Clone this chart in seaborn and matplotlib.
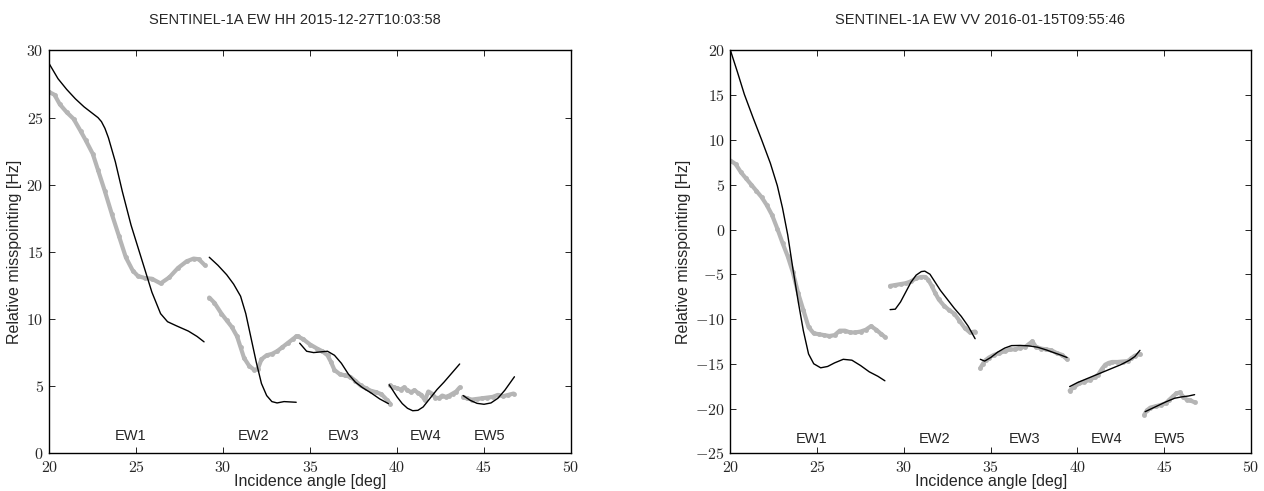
import numpy as np
import pandas as pd
import matplotlib
matplotlib.use("Agg")
import matplotlib.pyplot as plt
import seaborn as sns
from matplotlib.ticker import FuncFormatter, MultipleLocator

sns.set_theme(style="white")
plt.rcParams['font.family'] = ['Liberation Sans', 'DejaVu Sans']
plt.rcParams['mathtext.fontset'] = 'cm'

# ---------------- data: HH (left panel) ----------------
titles = ["SENTINEL-1A EW HH 2015-12-27T10:03:58",
          "SENTINEL-1A EW VV 2016-01-15T09:55:46"]
swath_labels = ["EW1", "EW2", "EW3", "EW4", "EW5"]
swath_label_x = [24.7, 31.75, 36.95, 41.65, 45.3]
swath_label_y = [1.3, -23.45]

hh_gray_x = [
    [20.0, 20.3, 20.6, 21.0, 21.4, 21.8, 22.1, 22.5, 22.8, 23.2, 23.6, 24.0, 24.4, 24.8,
     25.1, 25.5, 25.9, 26.4, 26.9, 27.4, 27.9, 28.3, 28.6, 28.95],
    [29.2, 29.5, 29.9, 30.2, 30.5, 30.8, 31.0, 31.2, 31.5, 31.8, 32.0, 32.2, 32.5, 32.8,
     33.1, 33.4, 33.7, 34.0, 34.2],
    [34.3, 34.6, 35.0, 35.4, 35.7, 36.0, 36.2, 36.4, 36.7, 37.0, 37.3, 37.6, 37.9, 38.2,
     38.5, 38.8, 39.1, 39.4, 39.6],
    [39.6, 39.8, 40.0, 40.2, 40.4, 40.6, 40.8, 41.0, 41.2, 41.4, 41.6, 41.8, 42.0, 42.2,
     42.4, 42.6, 42.8, 43.0, 43.2, 43.4, 43.6],
    [43.8, 44.0, 44.3, 44.6, 44.9, 45.2, 45.5, 45.8, 46.1, 46.4, 46.7],
]
hh_gray_y = [
    [26.9, 26.7, 26.0, 25.4, 24.9, 24.0, 23.3, 22.3, 21.1, 19.5, 17.8, 16.2, 14.6, 13.6,
     13.2, 13.05, 13.0, 12.65, 13.1, 13.8, 14.3, 14.5, 14.45, 14.0],
    [11.6, 11.2, 10.4, 9.9, 9.4, 8.7, 7.9, 7.1, 6.5, 6.2, 6.3, 7.0, 7.3, 7.4,
     7.6, 7.9, 8.2, 8.5, 8.7],
    [8.7, 8.5, 8.1, 7.8, 7.6, 7.3, 6.8, 6.2, 5.9, 5.8, 5.7, 5.4, 5.05, 4.85,
     4.65, 4.55, 4.4, 4.0, 3.7],
    [5.05, 4.9, 4.85, 4.75, 4.9, 4.7, 4.55, 4.7, 4.5, 4.35, 3.95, 4.6, 4.45, 4.15,
     4.1, 4.3, 4.2, 4.3, 4.45, 4.6, 4.9],
    [4.2, 4.1, 4.0, 4.05, 4.1, 4.15, 4.2, 4.35, 4.25, 4.35, 4.45],
]
hh_line_x = [
    [20.0, 20.5, 21.0, 21.5, 22.0, 22.5, 22.8, 23.0, 23.2, 23.4, 23.8, 24.2, 24.7, 25.3,
     25.9, 26.4, 26.8, 27.3, 28.0, 28.5, 28.9],
    [29.2, 29.7, 30.2, 30.6, 31.0, 31.3, 31.6, 31.9, 32.2, 32.5, 32.8, 33.1, 33.5, 34.2],
    [34.4, 34.8, 35.2, 35.6, 36.0, 36.4, 36.8, 37.2, 37.6, 38.0, 38.5, 39.0, 39.5],
    [39.55, 39.8, 40.0, 40.3, 40.6, 40.9, 41.2, 41.5, 41.9, 42.3, 42.7, 43.1, 43.6],
    [43.8, 44.2, 44.6, 45.0, 45.4, 45.8, 46.2, 46.75],
]
hh_line_y = [
    [29.0, 27.9, 27.1, 26.4, 25.8, 25.3, 25.0, 24.7, 24.2, 23.5, 21.7, 19.5, 17.0, 14.5,
     12.0, 10.4, 9.8, 9.5, 9.1, 8.7, 8.3],
    [14.6, 14.0, 13.3, 12.6, 11.7, 10.4, 8.6, 6.8, 5.2, 4.3, 3.85, 3.75, 3.85, 3.8],
    [8.2, 7.6, 7.5, 7.55, 7.6, 7.3, 6.7, 5.9, 5.3, 4.9, 4.5, 4.05, 3.7],
    [5.1, 4.6, 4.2, 3.7, 3.35, 3.17, 3.2, 3.45, 4.1, 4.75, 5.3, 5.9, 6.65],
    [4.3, 3.95, 3.72, 3.65, 3.75, 4.1, 4.7, 5.7],
]

# ---------------- data: VV (right panel) ----------------
vv_gray_x = [
    [20.0, 20.3, 20.6, 20.9, 21.2, 21.5, 21.8, 22.1, 22.4, 22.7, 23.0, 23.3, 23.6, 23.9,
     24.2, 24.5, 24.8, 25.1, 25.4, 25.7, 26.0, 26.3, 26.6, 26.9, 27.2, 27.5, 27.8, 28.1,
     28.4, 28.7, 28.9],
    [29.2, 29.5, 29.8, 30.1, 30.4, 30.7, 31.0, 31.2, 31.4, 31.6, 31.8, 32.0, 32.3, 32.6,
     32.9, 33.2, 33.5, 33.8, 34.1],
    [34.4, 34.55, 34.7, 34.9, 35.2, 35.5, 35.8, 36.1, 36.4, 36.7, 37.0, 37.2, 37.4, 37.6,
     37.9, 38.2, 38.5, 38.8, 39.1, 39.4],
    [39.55, 39.8, 40.1, 40.4, 40.7, 41.0, 41.2, 41.4, 41.6, 41.8, 42.0, 42.3, 42.6, 42.9,
     43.1, 43.3, 43.6],
    [43.85, 44.0, 44.2, 44.5, 44.8, 45.1, 45.3, 45.5, 45.7, 45.9, 46.1, 46.3, 46.5, 46.75],
]
vv_gray_y = [
    [7.7, 7.3, 6.4, 5.7, 5.0, 4.3, 3.6, 2.7, 1.6, 0.1, -1.5, -3.0, -4.8, -7.1,
     -9.0, -10.9, -11.6, -11.7, -11.8, -11.9, -11.8, -11.3, -11.3, -11.5, -11.5, -11.4,
     -11.2, -10.8, -11.2, -11.7, -12.0],
    [-6.3, -6.2, -6.1, -6.0, -5.8, -5.45, -5.3, -5.3, -5.6, -6.3, -7.1, -7.8, -8.5, -9.0,
     -9.4, -10.2, -11.0, -11.5, -11.4],
    [-15.5, -15.0, -14.6, -14.3, -14.0, -13.8, -13.6, -13.4, -13.4, -13.2, -13.1, -12.8,
     -12.5, -13.1, -13.3, -13.4, -13.5, -13.8, -14.0, -14.5],
    [-18.0, -17.6, -17.2, -17.0, -16.8, -16.5, -16.2, -15.6, -15.1, -14.9, -14.8, -14.8,
     -14.75, -14.7, -14.4, -14.1, -13.9],
    [-20.7, -20.2, -19.9, -19.75, -19.6, -19.4, -19.0, -18.65, -18.3, -18.2, -18.7, -19.0,
     -19.1, -19.3],
]
vv_line_x = [
    [20.0, 20.4, 20.8, 21.3, 21.8, 22.3, 22.7, 23.0, 23.3, 23.6, 23.9, 24.2, 24.5, 24.8,
     25.2, 25.6, 26.0, 26.5, 27.0, 27.5, 28.0, 28.5, 28.9],
    [29.2, 29.5, 29.8, 30.1, 30.4, 30.7, 31.0, 31.2, 31.5, 31.8, 32.1, 32.5, 32.9, 33.3,
     33.7, 34.1],
    [34.4, 34.65, 35.0, 35.4, 35.8, 36.2, 36.7, 37.2, 37.7, 38.2, 38.7, 39.0, 39.4],
    [39.55, 40.0, 40.5, 41.0, 41.5, 42.0, 42.5, 43.0, 43.3, 43.6],
    [43.9, 44.5, 45.1, 45.6, 46.0, 46.4, 46.75],
]
vv_line_y = [
    [20.0, 17.6, 15.1, 12.5, 10.0, 7.4, 4.9, 2.4, -0.6, -4.4, -8.0, -11.3, -13.9, -15.0,
     -15.45, -15.3, -14.9, -14.5, -14.6, -15.2, -15.9, -16.4, -16.9],
    [-8.95, -8.9, -8.1, -7.0, -5.9, -5.1, -4.7, -4.65, -5.0, -5.9, -6.8, -7.8, -8.8, -9.7,
     -10.8, -12.2],
    [-14.5, -14.7, -14.3, -13.7, -13.25, -12.97, -12.95, -13.0, -13.15, -13.45, -13.8,
     -14.0, -14.3],
    [-17.55, -17.1, -16.7, -16.3, -15.9, -15.5, -15.1, -14.6, -14.2, -13.5],
    [-20.35, -19.8, -19.25, -18.85, -18.7, -18.6, -18.45],
]

panels = [
    dict(gx=hh_gray_x, gy=hh_gray_y, lx=hh_line_x, ly=hh_line_y, ylim=(0, 30)),
    dict(gx=vv_gray_x, gy=vv_gray_y, lx=vv_line_x, ly=vv_line_y, ylim=(-25, 20)),
]
title_x = [0.47, 0.48]

fig = plt.figure(figsize=(12.64, 4.91), dpi=100)
axes = [fig.add_axes([0.039, 0.0768, 0.4127, 0.8204]),
        fig.add_axes([0.5779, 0.0768, 0.4118, 0.8204])]

fmt = FuncFormatter(lambda v, p: r'$%g$' % v)

for ax, p, title, ly_lab, tx in zip(axes, panels, titles, swath_label_y, title_x):
    ax.set_facecolor('white')
    for xs, ys in zip(p['gx'], p['gy']):
        df = pd.DataFrame({'x': xs, 'y': ys})
        sns.lineplot(data=df, x='x', y='y', ax=ax, color='#b5b5b5', linewidth=3.0,
                     sort=False, estimator=None, solid_capstyle='round',
                     marker='o', markersize=3.5, markeredgewidth=0)
    for xs, ys in zip(p['lx'], p['ly']):
        df = pd.DataFrame({'x': xs, 'y': ys})
        sns.lineplot(data=df, x='x', y='y', ax=ax, color='black', linewidth=1.0,
                     sort=False, estimator=None)
    for lab, lx in zip(swath_labels, swath_label_x):
        ax.text(lx, ly_lab, lab, ha='center', va='center', fontsize=10.5)
    ax.set_xlim(20, 50)
    ax.set_ylim(*p['ylim'])
    ax.xaxis.set_major_locator(MultipleLocator(5))
    ax.yaxis.set_major_locator(MultipleLocator(5))
    ax.xaxis.set_major_formatter(fmt)
    ax.yaxis.set_major_formatter(fmt)
    ax.tick_params(direction='in', length=4, width=0.6, color='black',
                   top=True, right=True, bottom=True, left=True,
                   labelsize=11.5)
    ax.tick_params(axis='x', pad=5)
    ax.tick_params(axis='y', pad=4)
    for s in ax.spines.values():
        s.set_visible(True)
        s.set_color('black')
        s.set_linewidth(1.0)
    ax.grid(False)
    ax.set_xlabel('Incidence angle [deg]', fontsize=11.5, labelpad=-1)
    ax.set_ylabel('Relative misspointing [Hz]', fontsize=11.5, labelpad=3)
    ax.set_title(title, fontsize=10.5, pad=19, x=tx)

fig.savefig('out.png', dpi=100)
